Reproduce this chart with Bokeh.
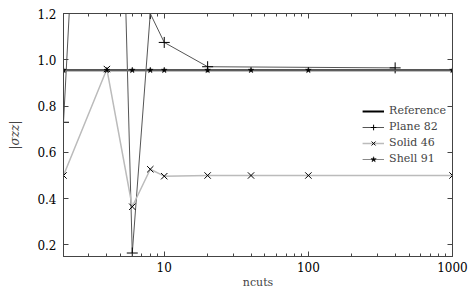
from bokeh.plotting import figure
from bokeh.models import (Range1d, FixedTicker, PrintfTickFormatter, LinearAxis, LogAxis,
                          Legend, LegendItem, CustomJSTickFormatter)
from bokeh.embed import file_html
from bokeh.resources import INLINE

# ---- data ----
ref_value = 0.955

plane_x = [2, 4, 6, 8, 10, 20, 400]
plane_y = [0.73, 4.3, 0.165, 1.2, 1.075, 0.97, 0.965]

solid_x = [2, 4, 6, 8, 10, 20, 40, 100, 1000]
solid_y = [0.50, 0.96, 0.365, 0.527, 0.497, 0.50, 0.50, 0.50, 0.50]

shell_x = [2, 4, 6, 8, 10, 20, 40, 100, 1000]
shell_y = [0.955, 0.955, 0.955, 0.955, 0.955, 0.955, 0.955, 0.955, 0.955]

x_major = [10, 100, 1000]
x_minor = [2, 3, 4, 5, 6, 7, 8, 9, 20, 30, 40, 50, 60, 70, 80, 90,
           200, 300, 400, 500, 600, 700, 800, 900]
y_ticks = [0.2, 0.4, 0.6, 0.8, 1.0, 1.2]

FONT = "DejaVu Serif"

p = figure(width=468, height=291, x_axis_type="log",
           x_range=Range1d(2, 1000), y_range=Range1d(0.15, 1.2),
           output_backend="svg", toolbar_location=None,
           min_border_left=63, min_border_right=16, min_border_top=13, min_border_bottom=34)
p.grid.visible = False
p.outline_line_color = "#444444"
p.background_fill_color = "white"
p.border_fill_color = "white"

def style_axis(ax, labels=True):
    ax.axis_line_color = "#444444"
    ax.major_tick_line_color = "#444444"
    ax.minor_tick_line_color = "#444444"
    ax.major_tick_in = 5
    ax.major_tick_out = 0
    ax.minor_tick_in = 3
    ax.minor_tick_out = 0
    ax.major_label_text_font = FONT
    ax.major_label_text_font_size = "12px"
    ax.major_label_text_color = "black"
    if not labels:
        ax.major_label_text_font_size = "0px"

xa = p.xaxis[0]
xa.ticker = FixedTicker(ticks=x_major, minor_ticks=x_minor)
xa.formatter = PrintfTickFormatter(format="%d")
xa.axis_label = "ncuts"
xa.axis_label_text_font = FONT
xa.axis_label_text_font_style = "normal"
xa.axis_label_text_font_size = "11px"
xa.axis_label_standoff = 1
xa.major_label_standoff = 5
style_axis(xa)

ya = p.yaxis[0]
ya.ticker = FixedTicker(ticks=y_ticks, minor_ticks=[])
ya.formatter = PrintfTickFormatter(format="%.1f")
ya.axis_label = "|σzz|"
ya.axis_label_text_font = FONT
ya.axis_label_text_font_style = "italic"
ya.axis_label_text_font_size = "12px"
ya.axis_label_standoff = 12
ya.major_label_standoff = 7
style_axis(ya)

top = LogAxis(ticker=FixedTicker(ticks=x_major, minor_ticks=x_minor),
              formatter=CustomJSTickFormatter(code="return ''"))
style_axis(top, labels=False)
p.add_layout(top, "above")
right = LinearAxis(ticker=FixedTicker(ticks=y_ticks, minor_ticks=[]),
                   formatter=CustomJSTickFormatter(code="return ''"))
style_axis(right, labels=False)
p.add_layout(right, "right")

ref_line = p.line([2, 1000], [ref_value, ref_value], line_color="black", line_width=2)

pl_line = p.line(plane_x, plane_y, line_color="#555555", line_width=1)
pl_mark = p.scatter(plane_x, plane_y, marker="cross", size=11, line_color="black", line_width=1)

so_line = p.line(solid_x, solid_y, line_color="#bbbbbb", line_width=1.5)
so_mark = p.scatter(solid_x, solid_y, marker="x", size=9, line_color="black", line_width=1)

sh_line = p.line(shell_x, shell_y, line_color="#888888", line_width=1)
sh_mark = p.scatter(shell_x, shell_y, marker="star", size=6, line_color="black",
                    fill_color="black", line_width=0.5)

legend = Legend(items=[
    LegendItem(label="Reference", renderers=[ref_line]),
    LegendItem(label="Plane 82", renderers=[pl_line, pl_mark]),
    LegendItem(label="Solid 46", renderers=[so_line, so_mark]),
    LegendItem(label="Shell 91", renderers=[sh_line, sh_mark]),
], location="center_right")
legend.border_line_color = None
legend.background_fill_alpha = 0
legend.label_text_font = FONT
legend.label_text_font_size = "11px"
legend.label_height = 14
legend.glyph_height = 14
legend.glyph_width = 22
legend.spacing = 2
legend.padding = 4
legend.margin = 6
p.add_layout(legend)

open("out.html", "w").write(file_html(p, INLINE))
